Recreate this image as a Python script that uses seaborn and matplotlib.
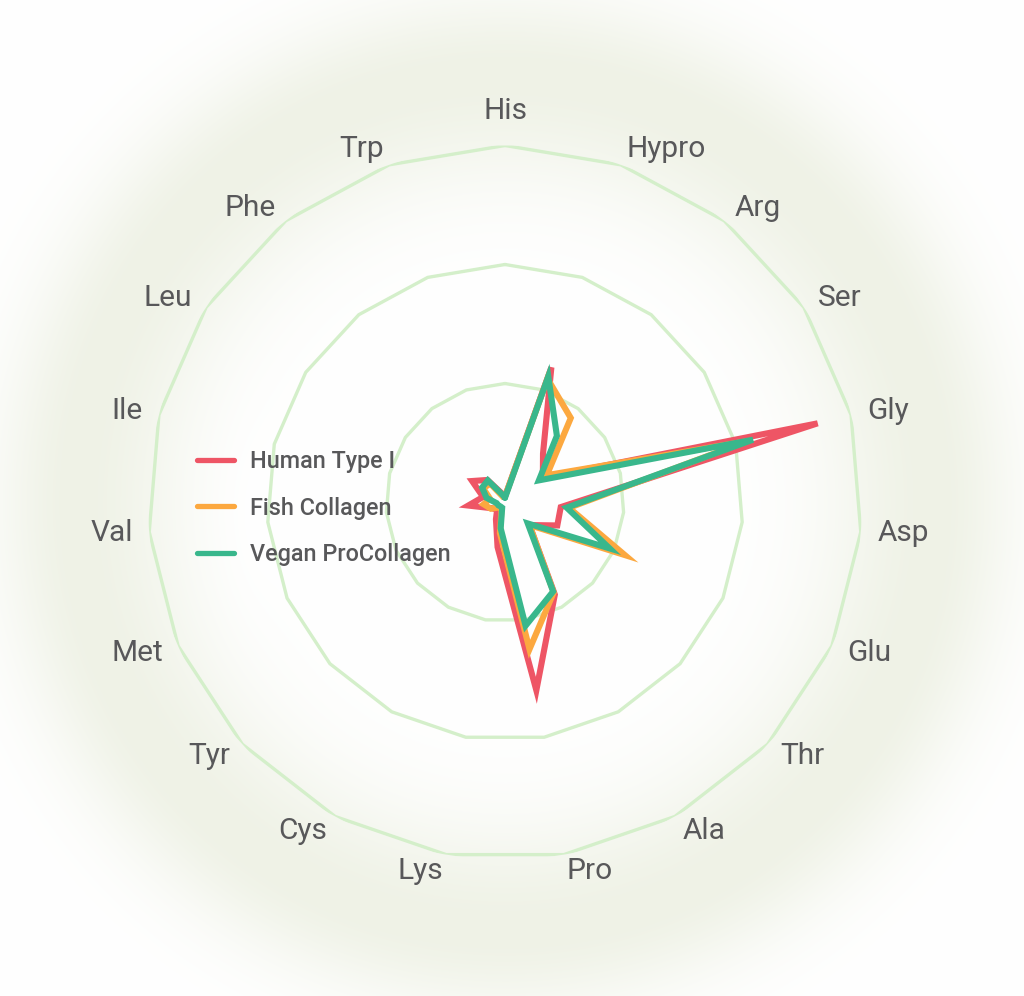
import numpy as np
import pandas as pd
import matplotlib
matplotlib.use("Agg")
import matplotlib.pyplot as plt
import seaborn as sns

# Amino acids, clockwise from the top
amino = ['His', 'Hypro', 'Arg', 'Ser', 'Gly', 'Asp', 'Glu', 'Thr', 'Ala', 'Pro',
         'Lys', 'Cys', 'Tyr', 'Met', 'Val', 'Ile', 'Leu', 'Phe', 'Trp']

human = [0.5, 12.0, 5.2, 3.8, 27.1, 4.7, 4.8, 2.8, 8.8, 16.0,
         3.8, 1.6, 0.9, 1.2, 3.1, 1.9, 3.3, 2.4, 0.8]
fish = [0.5, 11.0, 9.0, 4.2, 21.0, 5.4, 11.0, 2.8, 8.6, 12.5,
        2.6, 0.6, 0.6, 1.3, 1.8, 1.3, 2.2, 2.0, 0.5]
vegan = [0.4, 11.2, 7.1, 3.4, 21.5, 5.2, 9.6, 2.6, 8.5, 10.5,
         2.2, 0.5, 0.5, 0.6, 0.7, 1.6, 2.3, 2.35, 0.7]

series_names = ['Human Type I', 'Fish Collagen', 'Vegan ProCollagen']
series_colors = ['#ee5565', '#fca83f', '#39b78c']
rings = [10, 20, 30]

sns.set_theme(style='white')
plt.rcParams['font.family'] = ['Roboto', 'DejaVu Sans']

n = len(amino)
theta = np.linspace(0, 2 * np.pi, n, endpoint=False)
theta_closed = np.append(theta, 2 * np.pi)

# long table, each series closed back onto its first point
rows = []
for name, vals in zip(series_names, [human, fish, vegan]):
    for t, v in zip(theta_closed, vals + vals[:1]):
        rows.append({'theta': t, 'value': v, 'series': name})
df = pd.DataFrame(rows)

W, H = 1024, 996
fig = plt.figure(figsize=(W / 100, H / 100), dpi=100)
fig.patch.set_facecolor('white')

# soft green glow behind the chart
cx, cy, R = 505, 502.5, 357
yy, xx = np.mgrid[0:H, 0:W]
d = np.hypot(xx - cx, yy - cy)
peak = 430
a = np.where(d < peak, np.exp(-((d - peak) / 110) ** 2), np.exp(-((d - peak) / 80) ** 2))
a = a * (1 - 0.75 * np.exp(-((xx - 262) / 35) ** 2 - ((yy - 515) / 85) ** 2))
glow = np.array([239, 242, 230]) / 255
img = (1 - a[..., None]) + a[..., None] * glow
bg = fig.add_axes([0, 0, 1, 1])
bg.imshow(img, aspect='auto', extent=(0, W, H, 0), zorder=0)
bg.axis('off')

ax = fig.add_axes([(cx - R) / W, (H - cy - R) / H, 2 * R / W, 2 * R / H], polar=True)
ax.set_facecolor('none')
ax.set_theta_zero_location('N')
ax.set_theta_direction(-1)
ax.set_ylim(0, 30)
ax.grid(False)
ax.spines['polar'].set_visible(False)
ax.set_xticks([])
ax.set_yticks([])

for r in rings:
    ax.plot(theta_closed, [r] * (n + 1), color='#d4efca', lw=2.4, zorder=1)

sns.lineplot(data=df, x='theta', y='value', hue='series', hue_order=series_names,
             palette=series_colors, sort=False, estimator=None, lw=4.4,
             solid_joinstyle='miter', ax=ax, zorder=3)

handles, labels = ax.get_legend_handles_labels()
ax.get_legend().remove()

# category labels around the outer ring
for t, lab in zip(theta, amino):
    s = np.sin(t)
    if abs(s) < 1e-6:
        ha = 'center'
    elif s > 0:
        ha = 'left'
    else:
        ha = 'right'
    va = 'bottom' if np.cos(t) > 0.99 else 'center'
    rr = 31.7 if va == 'bottom' else 31.4
    ax.text(t, rr, lab, ha=ha, va=va, fontsize=21.5, color='#58585a')

leg = fig.legend(handles, labels, loc='center left',
                 bbox_to_anchor=(197 / W, 1 - 508 / H), frameon=False,
                 prop={'size': 16.8, 'weight': 'medium'},
                 handlelength=1.6, handletextpad=0.65,
                 labelspacing=1.0, borderpad=0, borderaxespad=0)
for line in leg.get_lines():
    line.set_linewidth(3.8)
    line.set_solid_capstyle('round')
for txt in leg.get_texts():
    txt.set_color('#58585a')

fig.savefig('out.png', dpi=100)
